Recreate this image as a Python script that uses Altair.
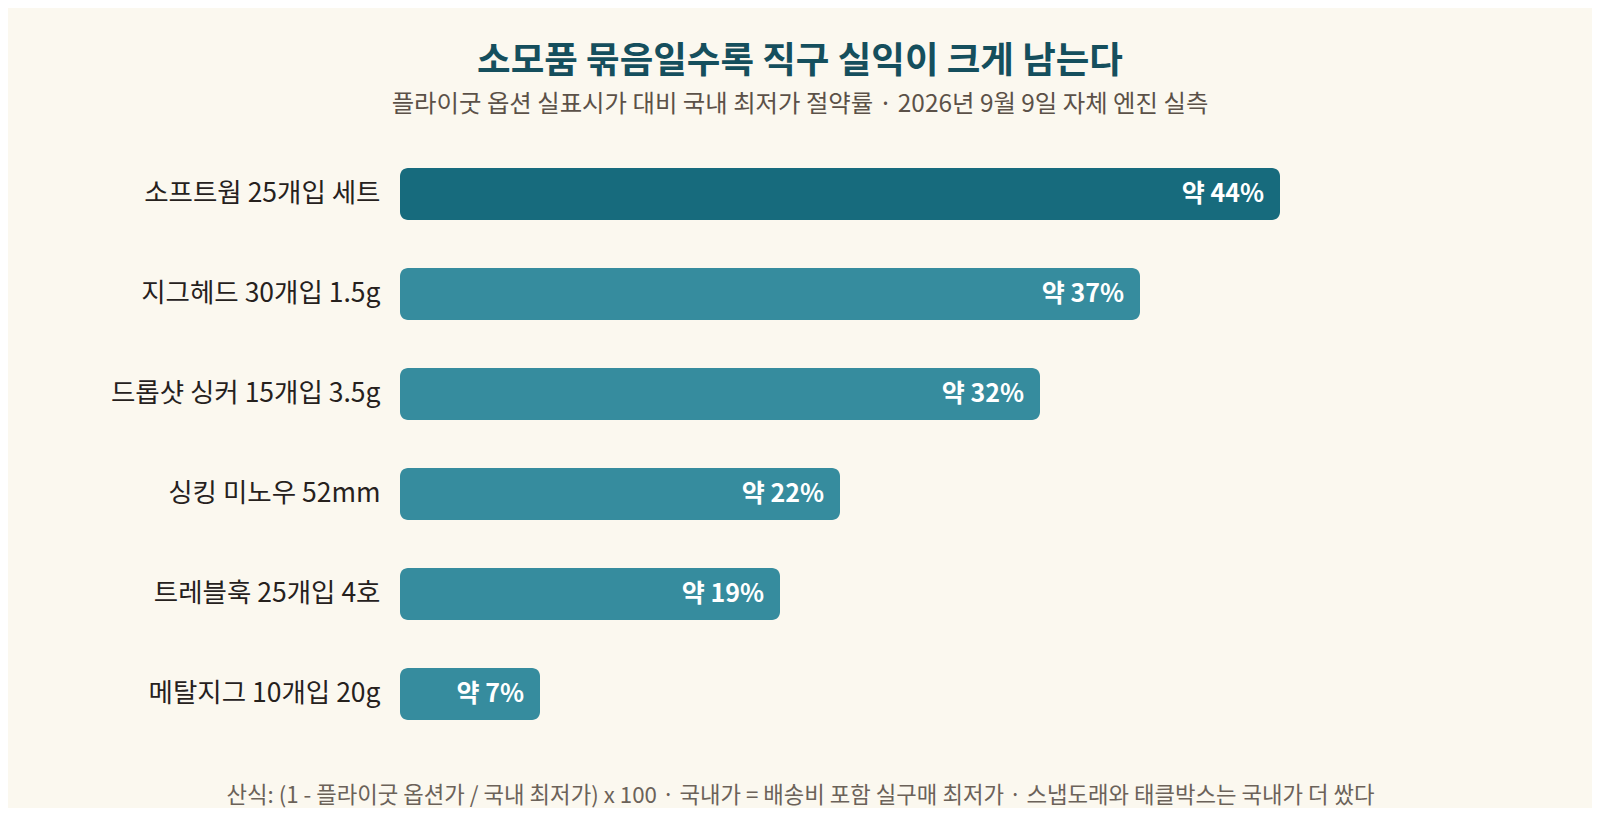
import altair as alt
import pandas as pd

FONT = "Noto Sans CJK KR"

items = [
    "소프트웜 25개입 세트",
    "지그헤드 30개입 1.5g",
    "드롭샷 싱커 15개입 3.5g",
    "싱킹 미노우 52mm",
    "트레블훅 25개입 4호",
    "메탈지그 10개입 20g",
]
savings = [44, 37, 32, 22, 19, 7]
labels = ["약 44%", "약 37%", "약 32%", "약 22%", "약 19%", "약 7%"]
highlight = ["top", "rest", "rest", "rest", "rest", "rest"]

TITLE = "소모품 묶음일수록 직구 실익이 크게 남는다"
SUBTITLE = "플라이굿 옵션 실표시가 대비 국내 최저가 절약률 · 2026년 9월 9일 자체 엔진 실측"
FOOTNOTE = "산식: (1 - 플라이굿 옵션가 / 국내 최저가) x 100 · 국내가 = 배송비 포함 실구매 최저가 · 스냅도래와 태클박스는 국내가 더 쌌다"

df = pd.DataFrame({
    "item": items,
    "saving": savings,
    "label": labels,
    "group": highlight,
})

W, H = 1000, 600

y_enc = alt.Y(
    "item:N",
    sort=items,
    scale=alt.Scale(paddingInner=0.48, paddingOuter=0.24),
    axis=alt.Axis(
        title=None, domain=False, ticks=False, grid=False,
        labelPadding=20, labelFont=FONT, labelFontSize=26.5,
        labelColor="#26211d", labelLimit=400, zindex=1,
    ),
)
x_enc = alt.X(
    "saving:Q",
    scale=alt.Scale(domain=[0, 50], nice=False, zero=True),
    axis=alt.Axis(
        title=FOOTNOTE, labels=False, ticks=False, domain=False, grid=False,
        titleFont=FONT, titleFontSize=22.3, titleFontWeight="normal",
        titleColor="#6b6259", titleX=400, titleY=51,
        titleBaseline="middle", titleAnchor="middle",
    ),
)

base = alt.Chart(df)

bars = base.mark_bar(cornerRadius=8).encode(
    x=x_enc,
    y=y_enc,
    color=alt.Color(
        "group:N",
        scale=alt.Scale(domain=["top", "rest"], range=["#176b7d", "#368c9e"]),
        legend=None,
    ),
)

text = base.mark_text(
    align="right", baseline="middle", dx=-16, font=FONT,
    fontSize=25, fontWeight="bold", color="white",
).encode(
    x="saving:Q",
    y=alt.Y("item:N", sort=items),
    text="label:N",
)

chart = alt.layer(bars, text).properties(
    width=W,
    height=H,
    autosize=alt.AutoSizeParams(type="none"),
    padding={"left": 392, "top": 136, "right": 192, "bottom": 64},
    background="#fbf8ef",
    title=alt.TitleParams(
        text=TITLE,
        subtitle=SUBTITLE,
        anchor="middle",
        frame="group",
        dx=-100,
        offset=28,
        font=FONT,
        fontSize=36.5,
        fontWeight="bold",
        color="#154f5d",
        subtitleFont=FONT,
        subtitleFontSize=24.4,
        subtitleColor="#5b5148",
        subtitlePadding=12,
    ),
).configure_view(stroke=None)

chart.save("out.html", embed_options={"renderer": "svg", "actions": False})
